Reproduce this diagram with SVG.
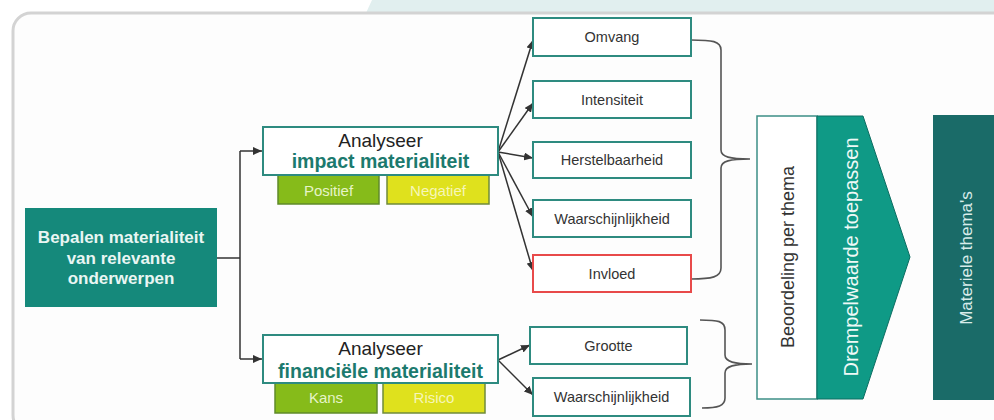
<svg xmlns="http://www.w3.org/2000/svg" width="994" height="420" viewBox="0 0 994 420">
  <defs>
    <marker id="arr" markerUnits="userSpaceOnUse" markerWidth="10" markerHeight="8" refX="9" refY="4" orient="auto">
      <path d="M0,0 L9,4 L0,8 z" fill="#333"/>
    </marker>
    <style>
      .t { font-family: "Liberation Sans", Arial, sans-serif; }
      .box { fill: #ffffff; stroke: #2e8b80; stroke-width: 2; }
      .red { fill: #ffffff; stroke: #e84a4a; stroke-width: 2; }
      .lbl { font-family: "Liberation Sans", Arial, sans-serif; font-size: 14.5px; fill: #333; text-anchor: middle; }
      .an { font-family: "Liberation Sans", Arial, sans-serif; font-size: 19px; fill: #222; text-anchor: middle; }
      .anb { font-family: "Liberation Sans", Arial, sans-serif; font-size: 19.5px; font-weight: bold; fill: #1c7a6e; text-anchor: middle; }
      .green { fill: #86bb1a; stroke: #5f8a2a; stroke-width: 1.5; }
      .yellow { fill: #dfe11d; stroke: #6f8a3a; stroke-width: 1.5; }
      .tag { font-family: "Liberation Sans", Arial, sans-serif; font-size: 15px; text-anchor: middle; }
      .conn { fill: none; stroke: #333; stroke-width: 1.5; }
      .brace { fill: none; stroke: #555; stroke-width: 1.6; }
    </style>
  </defs>

  <!-- background -->
  <rect x="0" y="0" width="994" height="420" fill="#ffffff"/>
  <polygon points="372,0 994,0 994,13 366,13" fill="#e1efef"/>
  <rect x="13" y="13" width="1010" height="420" rx="18" fill="#fdfdfd" stroke="#d3d3d3" stroke-width="3"/>

  <!-- connectors -->
  <g id="connectors">
    <path class="conn" d="M217,258 H240" stroke-width="2"/>
    <path class="conn" d="M240,151 V359" stroke-width="2"/>
    <path class="conn" d="M240,151 H262" stroke-width="2" marker-end="url(#arr)"/>
    <path class="conn" d="M240,359 H262" stroke-width="2" marker-end="url(#arr)"/>

    <path class="conn" d="M498,152 L533,40" marker-end="url(#arr)"/>
    <path class="conn" d="M498,152 L533,103" marker-end="url(#arr)"/>
    <path class="conn" d="M498,152 L533,158" marker-end="url(#arr)"/>
    <path class="conn" d="M498,152 L533,217" marker-end="url(#arr)"/>
    <path class="conn" d="M498,152 L533,271" marker-end="url(#arr)"/>

    <path class="conn" d="M498,360 L530,345" marker-end="url(#arr)"/>
    <path class="conn" d="M498,360 L533,395" marker-end="url(#arr)"/>

    <path class="brace" d="M691,40 C712,40 721,41 721,50 V150 C721,157 730,159 750,159 C730,159 721,161 721,168 V268 C721,277 712,279 691,279"/>
    <path class="brace" d="M700,320 C718,320 725,321 725,330 V355 C725,362 735,364 752,364 C735,364 725,366 725,373 V398 C725,406 718,408 702,408"/>
  </g>

  <g id="bepalen">
    <rect x="25" y="208" width="192" height="99" fill="#15897b"/>
    <text class="t" x="121" y="243" font-size="17" font-weight="bold" fill="#e9f6f3" text-anchor="middle">Bepalen materialiteit</text>
    <text class="t" x="121" y="263.5" font-size="17" font-weight="bold" fill="#e9f6f3" text-anchor="middle">van relevante</text>
    <text class="t" x="121" y="284" font-size="17" font-weight="bold" fill="#e9f6f3" text-anchor="middle">onderwerpen</text>
  </g>

  <g id="impact">
    <rect class="green" x="278" y="175" width="101" height="29"/>
    <text class="tag" x="328.5" y="196" fill="#e6f4c8">Positief</text>
    <rect class="yellow" x="387" y="175" width="102" height="29"/>
    <text class="tag" x="438" y="196" fill="#f6f6b8">Negatief</text>
    <rect class="box" x="263" y="127" width="235" height="48"/>
    <text class="an" x="380.5" y="147">Analyseer</text>
    <text class="anb" x="380.5" y="168">impact materialiteit</text>
  </g>

  <g id="financieel">
    <rect class="green" x="275" y="383" width="102" height="30"/>
    <text class="tag" x="326" y="403" fill="#e6f4c8">Kans</text>
    <rect class="yellow" x="383" y="383" width="102" height="30"/>
    <text class="tag" x="434" y="403" fill="#f6f6b8">Risico</text>
    <rect class="box" x="263" y="335" width="235" height="48"/>
    <text class="an" x="380.5" y="355">Analyseer</text>
    <text class="anb" x="380.5" y="378">financiële materialiteit</text>
  </g>

  <g id="omvang">
    <rect class="box" x="533" y="18" width="158" height="38"/>
    <text class="lbl" x="612" y="42">Omvang</text>
  </g>
  <g id="intensiteit">
    <rect class="box" x="533" y="81" width="158" height="37"/>
    <text class="lbl" x="612" y="105">Intensiteit</text>
  </g>
  <g id="herstelbaarheid">
    <rect class="box" x="533" y="142" width="158" height="36"/>
    <text class="lbl" x="612" y="165" fill="#555">Herstelbaarheid</text>
  </g>
  <g id="waarschijnlijkheid1">
    <rect class="box" x="533" y="200" width="158" height="37"/>
    <text class="lbl" x="612" y="224">Waarschijnlijkheid</text>
  </g>
  <g id="invloed">
    <rect class="red" x="533" y="255" width="158" height="37"/>
    <text class="lbl" x="612" y="279">Invloed</text>
  </g>
  <g id="grootte">
    <rect class="box" x="530" y="327" width="157" height="37"/>
    <text class="lbl" x="608.5" y="351">Grootte</text>
  </g>
  <g id="waarschijnlijkheid2">
    <rect class="box" x="533" y="378" width="157" height="38"/>
    <text class="lbl" x="611.5" y="402">Waarschijnlijkheid</text>
  </g>

  <g id="beoordeling">
    <rect x="757" y="116" width="60" height="283" fill="#ffffff" stroke="#3c8f86" stroke-width="1.5"/>
    <text class="t" transform="translate(794,257) rotate(-90)" font-size="18" fill="#333" text-anchor="middle">Beoordeling per thema</text>
  </g>

  <g id="drempelwaarde">
    <polygon points="817,116 863,116 910,257 863,399 817,399" fill="#0f9a86" stroke="#0c6e62" stroke-width="1"/>
    <text class="t" transform="translate(858,257) rotate(-90)" font-size="20" fill="#eef9f6" text-anchor="middle">Drempelwaarde toepassen</text>
  </g>

  <g id="materiele">
    <rect x="933" y="115" width="65" height="285" fill="#1a6b68"/>
    <text class="t" transform="translate(972,258) rotate(-90)" font-size="17" fill="#d8ecea" text-anchor="middle">Materiele thema's</text>
  </g>
</svg>
